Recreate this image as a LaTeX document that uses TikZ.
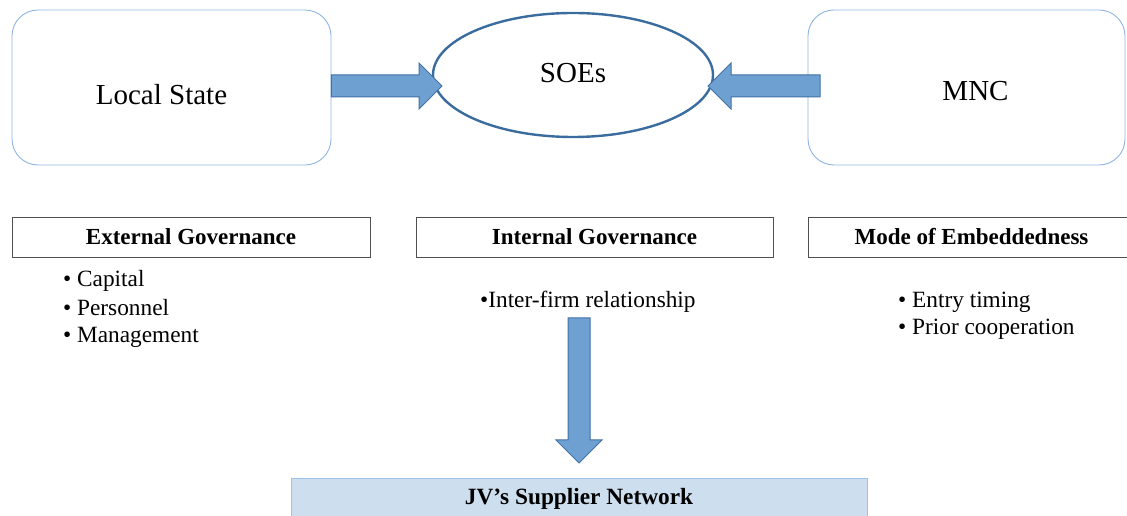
\documentclass[tikz,border=0pt]{standalone}
\usepackage{fontspec}
\setmainfont{LiberationSerif}[
  Extension=.ttf,
  UprightFont=*-Regular,
  BoldFont=*-Bold,
  ItalicFont=*-Italic,
  BoldItalicFont=*-BoldItalic]
\usetikzlibrary{calc,shapes.geometric}

\definecolor{softblue}{RGB}{141,180,226}
\definecolor{ovalblue}{RGB}{58,108,158}
\definecolor{arrowfill}{RGB}{110,160,210}
\definecolor{arrowline}{RGB}{65,113,165}
\definecolor{panelfill}{RGB}{205,222,238}
\definecolor{panelline}{RGB}{160,195,230}
\definecolor{headline}{RGB}{80,80,80}

\tikzset{
  actor/.style={draw=softblue, line width=0.9pt, rounded corners=26pt,
    minimum width=#1, minimum height=155pt, inner sep=0pt},
  actorname/.style={inner sep=0pt, font=\fontsize{29}{32}\selectfont},
  oval/.style={ellipse, draw=ovalblue, line width=2.4pt, minimum width=280pt,
    minimum height=124pt, inner sep=0pt, font=\fontsize{29}{32}\selectfont},
  headbox/.style={draw=headline, line width=0.9pt, minimum width=#1,
    minimum height=40pt, inner sep=0pt, font=\bfseries\fontsize{23}{26}\selectfont},
  item/.style={anchor=west, inner sep=0pt, font=\fontsize{23.3}{26}\selectfont},
  resultbox/.style={draw=panelline, fill=panelfill, line width=1pt,
    minimum width=576pt, minimum height=40pt, inner sep=0pt,
    font=\bfseries\fontsize{23.3}{26}\selectfont},
  blockarrow/.style={fill=arrowfill, draw=arrowline, line width=1pt,
    to path={
      ($(\tikztostart)!11pt!90:(\tikztotarget)$)
      -- ($($(\tikztotarget)!23pt!(\tikztostart)$)!11pt!-90:(\tikztostart)$)
      -- ($($(\tikztotarget)!23pt!(\tikztostart)$)!23pt!-90:(\tikztostart)$)
      -- (\tikztotarget)
      -- ($($(\tikztotarget)!23pt!(\tikztostart)$)!23pt!90:(\tikztostart)$)
      -- ($($(\tikztotarget)!23pt!(\tikztostart)$)!11pt!90:(\tikztostart)$)
      -- ($(\tikztostart)!11pt!-90:(\tikztotarget)$)
      -- cycle}},
}

\begin{document}
\begin{tikzpicture}[x=1pt, y=1pt]
  \useasboundingbox (0,0) rectangle (1127,516);

  % actors and the state-owned enterprises between them
  \node[actor=319pt] (ls) at (171.5,428.5) {};
  \node[actorname] (lsName) at ($(ls.center)+(-10,-7)$) {Local State};
  \node[actor=317pt] (mnc) at (966.5,428.5) {};
  \node[actorname] (mncName) at ($(mnc.center)+(9,-4)$) {MNC};
  \node[oval] (soe) at (573,441) {\raisebox{4pt}{SOEs}};

  % influence arrows into the SOEs
  \coordinate (lsOut) at (ls.east |- 0,430);
  \coordinate (soeL) at (442,430);
  \coordinate (mncOut) at (820,430);
  \coordinate (soeR) at (708,430);
  \draw[blockarrow] (lsOut) to (soeL);
  \draw[blockarrow] (mncOut) to (soeR);

  % governance dimensions
  \node[headbox=358pt] (ext) at (191,279) {External Governance};
  \node[headbox=357pt] (int) at (594.5,279) {Internal Governance};
  \node[headbox=327pt] (mode) at (971.5,279) {Mode of Embeddedness};

  \node[item] (cap) at (63,235) {• Capital};
  \node[item] (per) at (63,208) {• Personnel};
  \node[item] (man) at (63,179) {• Management};

  \node[item] (ifr) at (480,214) {•Inter-firm relationship};

  \node[item] (ent) at (898,214) {• Entry timing};
  \node[item] (pri) at (898,187) {• Prior cooperation};

  % outcome
  \node[resultbox] (jv) at (579,17) {JV’s Supplier Network};
  \coordinate (ifrOut) at (579,198);
  \coordinate (jvIn) at (579,53);
  \draw[blockarrow] (ifrOut) to (jvIn);
\end{tikzpicture}
\end{document}
